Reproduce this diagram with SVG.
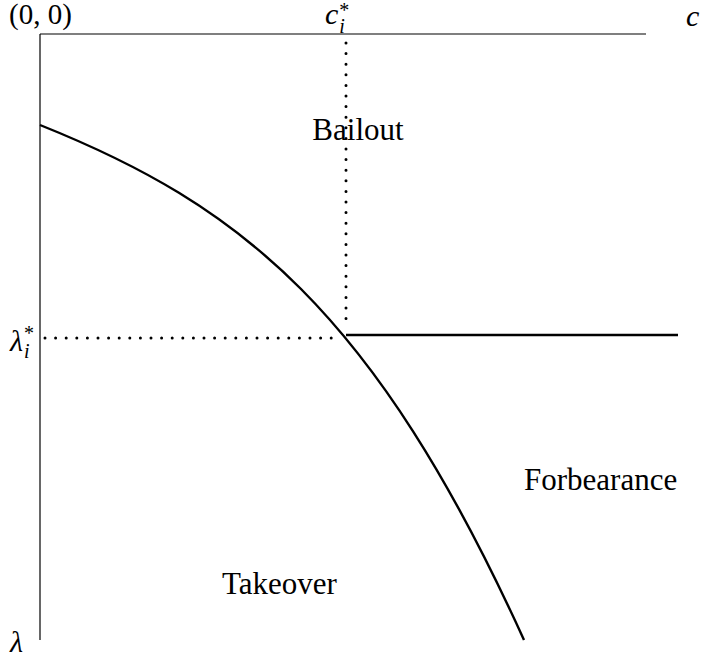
<svg xmlns="http://www.w3.org/2000/svg" width="701" height="657" viewBox="0 0 701 657">
<style>
.t{font-family:"Liberation Serif","Times New Roman",serif;fill:#000;}
.m{font-family:"Liberation Serif","Times New Roman",serif;font-style:italic;fill:#000;}
.s{font-size:20px;}
.up{font-style:normal;}
.ax{stroke:#000;stroke-width:1.2;fill:none;}
.th{stroke:#000;stroke-width:2.4;fill:none;}
.dot{stroke:#000;stroke-width:3;stroke-linecap:round;stroke-dasharray:0 10.6;fill:none;}
</style>
<rect width="701" height="657" fill="#fff"/>
<g id="connectors">
<line class="ax" x1="40" y1="34" x2="646" y2="34"/>
<line class="ax" x1="40" y1="34" x2="40" y2="640" stroke="#444"/>
<path class="th" d="M40,125 C240,205 374,310 524,640"/>
<line class="th" x1="346" y1="335" x2="678" y2="335"/>
<line class="dot" x1="346" y1="43" x2="346" y2="328"/>
<line class="dot" x1="45" y1="338" x2="340" y2="338"/>
</g>
<g id="origin"><text class="t" x="9" y="24" font-size="29">(0, 0)</text></g>
<g id="cstar"><text class="m" x="325" y="24" font-size="30">c<tspan class="s up" dx="1" dy="-7">*</tspan><tspan class="s" dx="-10" dy="16">i</tspan></text></g>
<g id="c"><text class="m" x="686" y="26" font-size="30">c</text></g>
<g id="lamstar"><text class="m" x="10" y="351" font-size="30">λ<tspan class="s up" dx="1" dy="-11">*</tspan><tspan class="s" dx="-10" dy="18">i</tspan></text></g>
<g id="lam"><text class="m" x="10" y="652" font-size="30">λ</text></g>
<g id="bailout"><text class="t" x="358" y="140" font-size="31" text-anchor="middle">Bailout</text></g>
<g id="forbearance"><text class="t" x="524" y="490" font-size="31">Forbearance</text></g>
<g id="takeover"><text class="t" x="222" y="594" font-size="31">Takeover</text></g>
</svg>
